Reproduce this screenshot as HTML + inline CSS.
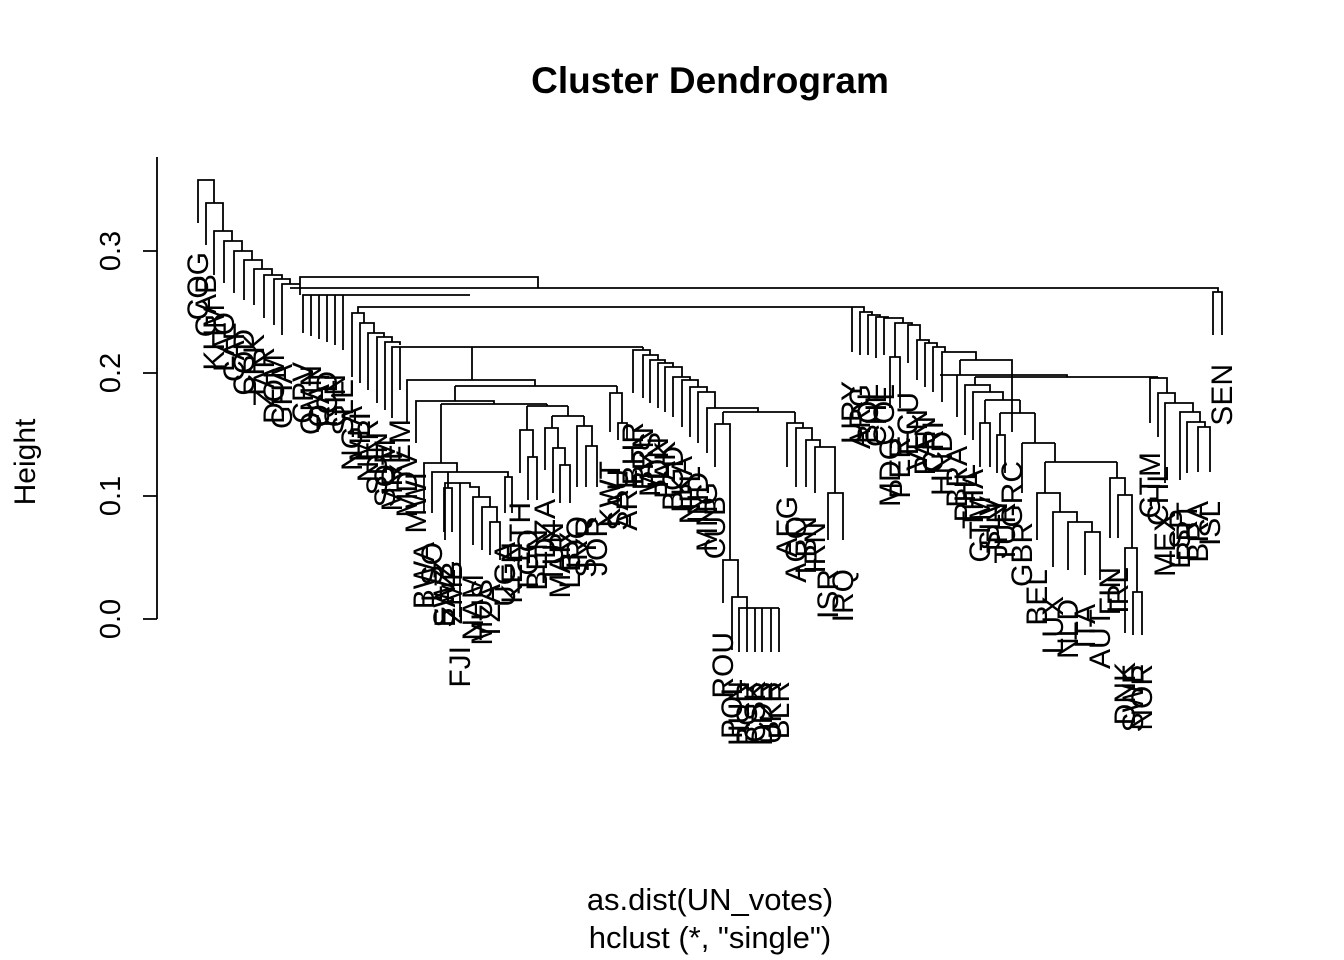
<!DOCTYPE html>
<html><head><meta charset="utf-8"><style>
html,body{margin:0;padding:0;background:#fff}
svg{display:block}
text{font-family:"Liberation Sans",Arial,sans-serif;fill:#000}
.l{font-size:30px}
</style></head><body>
<svg width="1344" height="960" viewBox="0 0 1344 960">
<text x="710" y="93" text-anchor="middle" font-size="37" font-weight="bold">Cluster Dendrogram</text>
<text x="710" y="910" text-anchor="middle" font-size="31">as.dist(UN_votes)</text>
<text x="710" y="948" text-anchor="middle" font-size="31">hclust (*, "single")</text>
<text transform="translate(35,462) rotate(-90)" text-anchor="middle" font-size="30">Height</text>
<g stroke="#000" stroke-width="1.8" fill="none">
<path d="M157 157V619M143 619H157M143 496H157M143 373H157M143 251H157"/>
<path d="M198 223V180H214V203M206 245V203H223V231M214 275V231H232V241M224 283V241H242V251M234 293V251H252V260M244 300V260H262V269M254 305V269H272V275M264 318V275H282V279M274 325V279H290V284M282 335V284H300V288
M290 288H1218V292M1213 335V292H1222V335M300 295V277H538V288
M303 333V295H470M311 336V295M319 339V295M327 342V295M335 345V295M343 350V295
M358 313V307H860M352 377V313H364V323M360 383V323H374V333M368 390V333H384V337M377 403V337H392V342M385 410V342H400V345M392 418V347H643
M400 390V347M472 347V380M407 422V380H535V386M455 386H617M455 386V401M416 443V401H494V404M441 404H547M441 404V463M424 513V463H457V472M432 513V472H508V477M505 513V477H512V513M448 472V488M444 532V488H452V532
M460 617V483M445 540V483H470V487H479V497M473 545V497H490V507M482 550V507H497V522M490 555V522H500V560
M547 404V406M527 406H568M527 406V430M520 473V430H533V457M528 500V457H537V500M568 406V416M552 416H584M552 416V428M545 470V428H558V448M553 493V448H565V465M560 503V465H570V503M584 416V426M577 487V426H592V446M586 487V446H597V487
M617 386V393M610 432V393H622V423M618 440V423H627V440
M643 347V350M633 393V350H650V355M643 398V355H658V360M650 403V360H665V363M658 408V363H673V367M665 412V367H682V377M673 417V377H690V380M682 427V380H698V387M690 437V387H707V392M698 443V392H715V408M707 453V408H758V412M723 412H795
M723 412V424M715 467V424H730V560M723 603V560H738V597M732 650V597H747V608M739 652V608H779M747 652V608M755 652V608M762 652V608M771 652V608M779 652V608
M795 412V423M787 467V423H803V428M796 487V428H812V440M806 487V440H820V447M815 493V447H835V493M828 540V493H843V540
M852 352V307H864V312M860 355V312H872V315M868 355V315H880V317M876 358V317H888V318M884 355V318H903V323M895 357V323H912V325M890 408V357H900V408M908 363V325H920V340M917 380V340H929V343M925 387V343H937V347M933 392V347H945V352M942 402V352H976V360M960 360H1012V432M960 360V375
M940 375H1067V377M957 417V375M975 377H1158M975 377V385M965 435V385H990V392M973 440V392H1003V400M985 400H1020M985 400V423M980 467V423H990V467M1020 400V413M1000 413H1035M1000 413V435M997 473V435H1005V473
M1035 413V443M1022 443H1055M1022 493V443M1055 443V462M1045 462H1117M1045 462V493M1037 540V493H1060V512M1053 567V512H1077V522M1068 570V522H1092V532M1085 575V532H1100V580
M1117 462V478M1110 538V478H1125V495M1118 538V495H1132V548M1125 633V548H1137V592M1133 635V592H1142V635
M1158 377V378M1150 423V378H1167V393M1158 437V393H1175V403M1165 483V403H1193V412M1180 480V412H1200V422M1187 473V422H1205V427M1198 472V427H1210V472"/>
</g>
<g font-size="29">
<text transform="translate(120,619) rotate(-90)" text-anchor="middle">0.0</text>
<text transform="translate(120,496) rotate(-90)" text-anchor="middle">0.1</text>
<text transform="translate(120,373) rotate(-90)" text-anchor="middle">0.2</text>
<text transform="translate(120,251) rotate(-90)" text-anchor="middle">0.3</text>
</g>
<g class="l" text-anchor="end">
<text transform="translate(208,252) rotate(-90)">COG</text>
<text transform="translate(216,274) rotate(-90)">GAB</text>
<text transform="translate(224,304) rotate(-90)">KHM</text>
<text transform="translate(234,312) rotate(-90)">LAO</text>
<text transform="translate(244,322) rotate(-90)">CAF</text>
<text transform="translate(254,329) rotate(-90)">COD</text>
<text transform="translate(264,334) rotate(-90)">PRK</text>
<text transform="translate(274,347) rotate(-90)">ZAR</text>
<text transform="translate(284,354) rotate(-90)">DOM</text>
<text transform="translate(292,364) rotate(-90)">GHA</text>
<text transform="translate(313,362) rotate(-90)">CPV</text>
<text transform="translate(321,365) rotate(-90)">OMN</text>
<text transform="translate(329,368) rotate(-90)">QAT</text>
<text transform="translate(337,371) rotate(-90)">TCD</text>
<text transform="translate(345,374) rotate(-90)">GIN</text>
<text transform="translate(353,379) rotate(-90)">SLE</text>
<text transform="translate(362,406) rotate(-90)">NGA</text>
<text transform="translate(370,412) rotate(-90)">MLI</text>
<text transform="translate(378,419) rotate(-90)">NER</text>
<text transform="translate(387,432) rotate(-90)">SDN</text>
<text transform="translate(395,439) rotate(-90)">SOM</text>
<text transform="translate(402,447) rotate(-90)">MRT</text>
<text transform="translate(410,419) rotate(-90)">YEM</text>
<text transform="translate(417,451) rotate(-90)">MDV</text>
<text transform="translate(426,472) rotate(-90)">MWI</text>
<text transform="translate(434,542) rotate(-90)">BWA</text>
<text transform="translate(442,542) rotate(-90)">LSO</text>
<text transform="translate(454,561) rotate(-90)">SWZ</text>
<text transform="translate(462,561) rotate(-90)">ZMB</text>
<text transform="translate(470,646) rotate(-90)">FJI</text>
<text transform="translate(455,569) rotate(-90)">EAZ</text>
<text transform="translate(483,574) rotate(-90)">NAM</text>
<text transform="translate(492,579) rotate(-90)">MUS</text>
<text transform="translate(500,584) rotate(-90)">TZA</text>
<text transform="translate(515,542) rotate(-90)">UGA</text>
<text transform="translate(522,542) rotate(-90)">KEN</text>
<text transform="translate(530,502) rotate(-90)">ETH</text>
<text transform="translate(538,529) rotate(-90)">TGO</text>
<text transform="translate(547,529) rotate(-90)">BEN</text>
<text transform="translate(555,499) rotate(-90)">DZA</text>
<text transform="translate(563,522) rotate(-90)">TUN</text>
<text transform="translate(570,532) rotate(-90)">MAR</text>
<text transform="translate(580,532) rotate(-90)">LBY</text>
<text transform="translate(587,516) rotate(-90)">IRQ</text>
<text transform="translate(596,516) rotate(-90)">SYR</text>
<text transform="translate(607,516) rotate(-90)">JOR</text>
<text transform="translate(620,461) rotate(-90)">KWT</text>
<text transform="translate(628,469) rotate(-90)">SAU</text>
<text transform="translate(637,469) rotate(-90)">ARE</text>
<text transform="translate(643,422) rotate(-90)">BHR</text>
<text transform="translate(653,427) rotate(-90)">BRN</text>
<text transform="translate(660,432) rotate(-90)">MYS</text>
<text transform="translate(668,437) rotate(-90)">IDN</text>
<text transform="translate(675,441) rotate(-90)">PAK</text>
<text transform="translate(683,446) rotate(-90)">BGD</text>
<text transform="translate(692,456) rotate(-90)">LKA</text>
<text transform="translate(700,466) rotate(-90)">NPL</text>
<text transform="translate(708,472) rotate(-90)">IND</text>
<text transform="translate(717,482) rotate(-90)">MNG</text>
<text transform="translate(725,496) rotate(-90)">CUB</text>
<text transform="translate(733,632) rotate(-90)">ROU</text>
<text transform="translate(742,679) rotate(-90)">POL</text>
<text transform="translate(749,681) rotate(-90)">HUN</text>
<text transform="translate(757,681) rotate(-90)">BGR</text>
<text transform="translate(765,681) rotate(-90)">CSK</text>
<text transform="translate(772,681) rotate(-90)">DDR</text>
<text transform="translate(781,681) rotate(-90)">UKR</text>
<text transform="translate(789,681) rotate(-90)">BLR</text>
<text transform="translate(797,496) rotate(-90)">AFG</text>
<text transform="translate(806,516) rotate(-90)">AGO</text>
<text transform="translate(816,516) rotate(-90)">LBN</text>
<text transform="translate(825,522) rotate(-90)">IRN</text>
<text transform="translate(838,569) rotate(-90)">ISR</text>
<text transform="translate(853,569) rotate(-90)">IRQ</text>
<text transform="translate(862,381) rotate(-90)">URY</text>
<text transform="translate(870,384) rotate(-90)">ARG</text>
<text transform="translate(878,384) rotate(-90)">BOL</text>
<text transform="translate(886,387) rotate(-90)">CHL</text>
<text transform="translate(894,384) rotate(-90)">COL</text>
<text transform="translate(900,437) rotate(-90)">MDG</text>
<text transform="translate(910,437) rotate(-90)">PER</text>
<text transform="translate(918,392) rotate(-90)">ECU</text>
<text transform="translate(927,409) rotate(-90)">VEN</text>
<text transform="translate(935,416) rotate(-90)">PAN</text>
<text transform="translate(943,421) rotate(-90)">CRI</text>
<text transform="translate(952,431) rotate(-90)">HND</text>
<text transform="translate(967,446) rotate(-90)">BRA</text>
<text transform="translate(975,464) rotate(-90)">PHL</text>
<text transform="translate(983,469) rotate(-90)">THA</text>
<text transform="translate(990,496) rotate(-90)">GTM</text>
<text transform="translate(1000,496) rotate(-90)">SLV</text>
<text transform="translate(1007,502) rotate(-90)">JPN</text>
<text transform="translate(1015,502) rotate(-90)">TUR</text>
<text transform="translate(1022,461) rotate(-90)">GRC</text>
<text transform="translate(1032,522) rotate(-90)">GBR</text>
<text transform="translate(1047,569) rotate(-90)">BEL</text>
<text transform="translate(1063,596) rotate(-90)">LUX</text>
<text transform="translate(1078,599) rotate(-90)">NLD</text>
<text transform="translate(1095,604) rotate(-90)">ITA</text>
<text transform="translate(1110,609) rotate(-90)">AUT</text>
<text transform="translate(1120,567) rotate(-90)">FIN</text>
<text transform="translate(1128,567) rotate(-90)">IRL</text>
<text transform="translate(1135,662) rotate(-90)">DNK</text>
<text transform="translate(1143,664) rotate(-90)">SWE</text>
<text transform="translate(1152,664) rotate(-90)">NOR</text>
<text transform="translate(1160,452) rotate(-90)">GTM</text>
<text transform="translate(1168,466) rotate(-90)">CHL</text>
<text transform="translate(1175,512) rotate(-90)">MEX</text>
<text transform="translate(1190,509) rotate(-90)">ESP</text>
<text transform="translate(1197,502) rotate(-90)">PRT</text>
<text transform="translate(1208,501) rotate(-90)">BRA</text>
<text transform="translate(1220,501) rotate(-90)">ISL</text>
<text transform="translate(1232,364) rotate(-90)">SEN</text>
</g>
</svg>
</body></html>
